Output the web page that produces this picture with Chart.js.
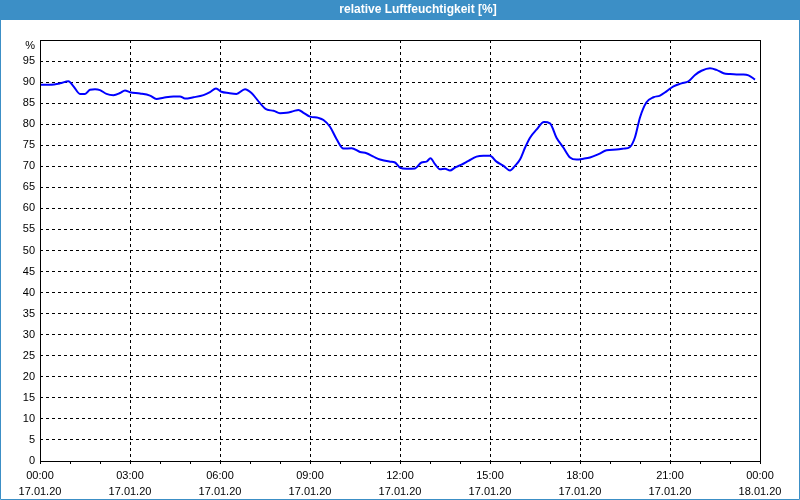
<!DOCTYPE html>
<html>
<head>
<meta charset="utf-8">
<title>relative Luftfeuchtigkeit</title>
<script src="https://cdn.jsdelivr.net/npm/chart.js@4/dist/chart.umd.min.js"></script>
<style>
    html, body { margin: 0; padding: 0; background: #ffffff; }
    #wrap { width: 800px; height: 500px; }
</style>
</head>
<body>
<div id="wrap"><canvas id="chart" width="800" height="500"></canvas></div>
<script>
// readings: minutes since 17.01.20 00:00 and relative humidity in %
const minutes = [
    0, 20, 40, 57, 67, 80, 90, 100, 110, 120, 133, 147, 160, 170, 180, 200, 220, 233, 247, 267,
    280, 290, 307, 327, 340, 352, 363, 377, 393, 410, 423, 440, 453, 467, 480, 493, 507, 517, 527, 540,
    557, 567, 580, 593, 607, 623, 640, 653, 667, 680, 700, 710, 720,
    733, 750, 763, 773, 781, 790, 800, 810, 820, 830, 843, 857, 873, 887, 900, 913, 927, 940, 950,
    960, 970, 980, 993, 1008, 1020, 1033, 1047, 1060, 1073, 1087, 1100, 1117, 1133, 1153, 1167, 1180,
    1190, 1200, 1213, 1227, 1240, 1253, 1267, 1283, 1297, 1310, 1323, 1340, 1353, 1367, 1380, 1393,
    1407, 1417, 1430
];
const humidity = [
    89.4, 89.4, 89.7, 90.2, 89.0, 87.2, 87.2, 88.2, 88.3, 88.1, 87.2, 86.9, 87.4, 88.0, 87.6, 87.3, 86.8, 86.0, 86.3, 86.6,
    86.6, 86.1, 86.4, 86.9, 87.6, 88.5, 87.7, 87.4, 87.2, 88.3, 87.4, 85.0, 83.5, 83.2, 82.6, 82.7, 83.1, 83.4, 82.7, 81.8,
    81.5, 81.0, 79.4, 76.5, 74.2, 74.3, 73.4, 73.1, 72.3, 71.6, 71.1, 70.9, 69.7,
    69.4, 69.5, 70.9, 71.1, 71.9, 70.5, 69.3, 69.4, 69.0, 69.7, 70.4, 71.3, 72.3, 72.5, 72.5, 71.1, 70.1, 69.0, 70.1,
    71.6, 74.4, 76.8, 78.7, 80.5, 80.2, 76.8, 74.4, 72.1, 71.6, 71.8, 72.1, 72.9, 73.8, 74.0, 74.2, 74.6,
    76.9, 81.6, 85.2, 86.4, 86.8, 87.8, 89.0, 89.7, 90.2, 91.7, 92.7, 93.3, 92.9, 92.1, 91.9, 91.8,
    91.8, 91.6, 90.6
];

const chartTitle = 'relative Luftfeuchtigkeit [%]';
const unitLabel = '%';
const dayLabels = ['17.01.20', '18.01.20'];

const FONT = '"Liberation Sans", Arial, sans-serif';
const FRAME_BLUE = '#3c8fc6';

function pad2(n) {
    return String(n).padStart(2, '0');
}

// title bar, window frame, plot frame and the "%" unit label
const framePlugin = {
    id: 'frame',
    beforeDraw(chart) {
        const ctx = chart.ctx;
        ctx.save();
        ctx.fillStyle = '#ffffff';
        ctx.fillRect(0, 0, chart.width, chart.height);
        ctx.restore();
    },
    afterDraw(chart) {
        const { ctx, chartArea } = chart;
        const w = chart.width, h = chart.height;
        ctx.save();

        ctx.fillStyle = FRAME_BLUE;
        ctx.fillRect(0, 0, w, 20);
        ctx.strokeStyle = FRAME_BLUE;
        ctx.lineWidth = 1;
        ctx.beginPath();
        ctx.moveTo(0.5, 20);
        ctx.lineTo(0.5, h - 0.5);
        ctx.lineTo(w - 0.5, h - 0.5);
        ctx.lineTo(w - 0.5, 20);
        ctx.stroke();

        ctx.fillStyle = '#ffffff';
        ctx.font = 'bold 12px ' + FONT;
        ctx.textAlign = 'center';
        ctx.textBaseline = 'middle';
        ctx.fillText(chartTitle, 418, 10);

        ctx.strokeStyle = '#000000';
        ctx.strokeRect(Math.round(chartArea.left) + 0.5, Math.round(chartArea.top) + 0.5,
            Math.round(chartArea.right - chartArea.left), Math.round(chartArea.bottom - chartArea.top));

        ctx.fillStyle = '#000000';
        ctx.font = '11px ' + FONT;
        ctx.textAlign = 'right';
        ctx.fillText(unitLabel, chartArea.left - 5, chartArea.top + 6);
        ctx.restore();
    }
};

const ctx = document.getElementById('chart').getContext('2d');

new Chart(ctx, {
    type: 'line',
    data: {
        datasets: [{
            label: chartTitle,
            data: minutes.map((m, i) => ({ x: m, y: humidity[i] })),
            borderColor: '#0000ff',
            borderWidth: 2,
            pointRadius: 0,
            fill: false,
            cubicInterpolationMode: 'monotone'
        }]
    },
    options: {
        responsive: false,
        animation: false,
        layout: {
            padding: { top: 40, right: 40, bottom: 0, left: 0 }
        },
        plugins: {
            legend: { display: false },
            title: { display: false },
            tooltip: { enabled: false }
        },
        scales: {
            x: {
                type: 'linear',
                min: 0,
                max: 1440,
                afterFit: scale => { scale.height = 39; },
                border: { display: false, dash: [3, 3] },
                grid: {
                    color: c => (c.tick && c.tick.value % 180 === 0 && c.tick.value > 0 && c.tick.value < 1440) ? '#000000' : 'rgba(0,0,0,0)',
                    tickColor: '#000000',
                    tickLength: 3,
                    lineWidth: 1
                },
                ticks: {
                    stepSize: 60,
                    autoSkip: false,
                    maxRotation: 0,
                    padding: 4,
                    color: '#000000',
                    font: { family: FONT, size: 11, lineHeight: '16px' },
                    callback: value => {
                        if (value % 180 !== 0) return '';
                        const day = Math.floor(value / 1440);
                        const rest = value - day * 1440;
                        return [pad2(Math.floor(rest / 60)) + ':' + pad2(rest % 60), dayLabels[day]];
                    }
                }
            },
            y: {
                min: 0,
                max: 100,
                afterFit: scale => { scale.width = 40; },
                border: { display: false, dash: [3, 3] },
                grid: {
                    color: c => (c.tick && c.tick.value > 0 && c.tick.value < 100) ? '#000000' : 'rgba(0,0,0,0)',
                    drawTicks: false,
                    lineWidth: 1
                },
                ticks: {
                    stepSize: 5,
                    padding: 5,
                    color: '#000000',
                    font: { family: FONT, size: 11 },
                    callback: value => value === 100 ? '' : value
                }
            }
        }
    },
    plugins: [framePlugin]
});
</script>
</body>
</html>
